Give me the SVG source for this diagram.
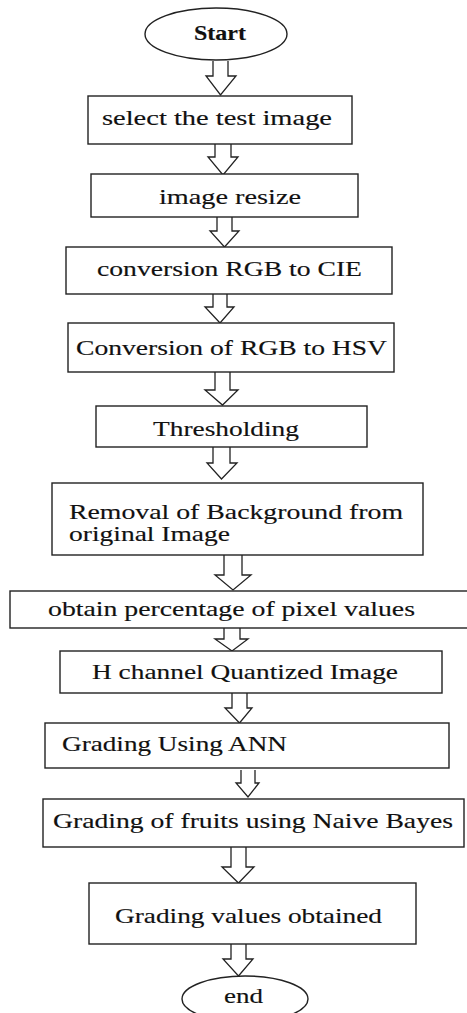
<svg xmlns="http://www.w3.org/2000/svg" width="467" height="1013" viewBox="0 0 467 1013">
<style>
.box{fill:#fff;stroke:#222;stroke-width:1.4}
.arr{fill:#fff;stroke:#222;stroke-width:1.3;stroke-linejoin:miter}
.t{font-family:"Liberation Serif","Times New Roman",serif;font-size:21px;fill:#111;stroke:#111;stroke-width:0.15}
</style>
<rect width="467" height="1013" fill="#fff"/>
<g id="connectors">
<path class="arr" d="M213,61 V76 H206 L220.5,95 L236,76 H228 V61"/>
<path class="arr" d="M215,144 V157 H208 L223,175 L238,157 H231 V144"/>
<path class="arr" d="M217,217 V231 H210 L224.5,247 L239,231 H232 V217"/>
<path class="arr" d="M213,294 V307 H205 L220,323 L234,307 H227 V294"/>
<path class="arr" d="M215,372 V390 H205 L222.5,405 L238,390 H230 V372"/>
<path class="arr" d="M213,447 V463 H207 L221.5,479 L237,463 H230 V447"/>
<path class="arr" d="M224,555 V575 H215 L233,590 L251,575 H242 V555"/>
<path class="arr" d="M224,628 V639 H215 L232,651 L248,639 H240 V628"/>
<path class="arr" d="M232,693 V708 H225 L239.5,723 L252,708 H247 V693"/>
<path class="arr" d="M241,770 V783 H236 L248,797 L259,783 H255 V770"/>
<path class="arr" d="M231,847 V867 H222 L238.5,883 L254,867 H246 V847"/>
<path class="arr" d="M231,944 V959 H223 L238.5,976 L253,959 H246 V944"/>
</g>
<g id="start">
<ellipse class="box" cx="216" cy="34" rx="71" ry="26"/>
<text class="t" x="194" y="40" textLength="52" lengthAdjust="spacingAndGlyphs" font-weight="bold" stroke-width="0">Start</text>
</g>
<g id="select">
<rect class="box" x="88" y="96" width="264" height="48"/>
<text class="t" x="102" y="125" textLength="230" lengthAdjust="spacingAndGlyphs">select the test image</text>
</g>
<g id="resize">
<rect class="box" x="91" y="174" width="267" height="43"/>
<text class="t" x="159" y="204" textLength="142" lengthAdjust="spacingAndGlyphs">image resize</text>
</g>
<g id="cie">
<rect class="box" x="66" y="247" width="326" height="47"/>
<text class="t" x="97" y="276" textLength="265" lengthAdjust="spacingAndGlyphs">conversion RGB to CIE</text>
</g>
<g id="hsv">
<rect class="box" x="68" y="323" width="326" height="49"/>
<text class="t" x="76" y="355" textLength="311" lengthAdjust="spacingAndGlyphs">Conversion of RGB to HSV</text>
</g>
<g id="thresholding">
<rect class="box" x="96" y="406" width="271" height="41"/>
<text class="t" x="153" y="436" textLength="146" lengthAdjust="spacingAndGlyphs">Thresholding</text>
</g>
<g id="removal">
<rect class="box" x="52" y="483" width="371" height="72"/>
<text class="t" x="69" y="519" textLength="334" lengthAdjust="spacingAndGlyphs">Removal of Background from</text>
<text class="t" x="69" y="541" textLength="161" lengthAdjust="spacingAndGlyphs">original Image</text>
</g>
<g id="obtain">
<rect class="box" x="10" y="591" width="462" height="37"/>
<text class="t" x="48" y="616" textLength="367" lengthAdjust="spacingAndGlyphs">obtain percentage of pixel values</text>
</g>
<g id="hchannel">
<rect class="box" x="60" y="651" width="382" height="42"/>
<text class="t" x="92" y="679" textLength="306" lengthAdjust="spacingAndGlyphs">H channel Quantized Image</text>
</g>
<g id="ann">
<rect class="box" x="45" y="723" width="404" height="45"/>
<text class="t" x="62" y="751" textLength="225" lengthAdjust="spacingAndGlyphs">Grading Using ANN</text>
</g>
<g id="naive">
<rect class="box" x="43" y="799" width="421" height="48"/>
<text class="t" x="53" y="828" textLength="400" lengthAdjust="spacingAndGlyphs">Grading of fruits using Naive Bayes</text>
</g>
<g id="values">
<rect class="box" x="89" y="883" width="327" height="61"/>
<text class="t" x="115" y="923" textLength="267" lengthAdjust="spacingAndGlyphs">Grading values obtained</text>
</g>
<g id="end">
<ellipse class="box" cx="245" cy="999" rx="63" ry="23"/>
<text class="t" x="224" y="1003" textLength="39" lengthAdjust="spacingAndGlyphs">end</text>
</g>
</svg>
